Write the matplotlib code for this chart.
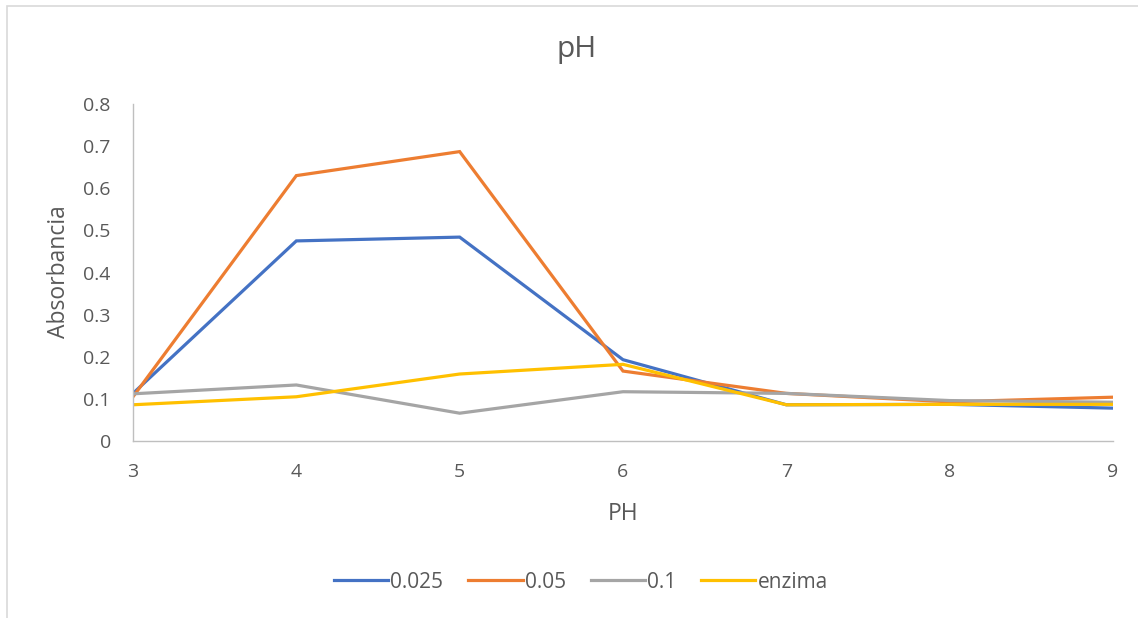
import matplotlib
matplotlib.use("Agg")
import matplotlib.pyplot as plt
from matplotlib.patches import Rectangle

ph = [3, 4, 5, 6, 7, 8, 9]
s_0025 = [0.113, 0.475, 0.484, 0.193, 0.086, 0.087, 0.078]
s_005 = [0.105, 0.630, 0.687, 0.166, 0.113, 0.093, 0.104]
s_01 = [0.112, 0.133, 0.066, 0.117, 0.113, 0.096, 0.092]
s_enz = [0.086, 0.105, 0.159, 0.182, 0.086, 0.087, 0.087]
labels = ["0.025", "0.05", "0.1", "enzima"]
colors = ["#4472C4", "#ED7D31", "#A5A5A5", "#FFC000"]
yticks = [0, 0.1, 0.2, 0.3, 0.4, 0.5, 0.6, 0.7, 0.8]
ytick_labels = ["0", "0.1", "0.2", "0.3", "0.4", "0.5", "0.6", "0.7", "0.8"]

plt.rcParams['font.family'] = ['Open Sans', 'DejaVu Sans']
TXT = "#595959"

fig = plt.figure(figsize=(11.38, 6.18), dpi=100)
fig.patches.append(Rectangle((7/1138, -0.1), 1.2, 1 - 6/618 + 0.1, transform=fig.transFigure,
                             fill=False, edgecolor="#D9D9D9", linewidth=1.2))
ax = fig.add_axes([133/1138, 1 - 441/618, (1113 - 133)/1138, (441 - 104)/618])

for ys, lab, col in zip([s_0025, s_005, s_01, s_enz], labels, colors):
    ax.plot(ph, ys, color=col, linewidth=2.3, label=lab, solid_joinstyle='miter')

ax.set_xlim(3, 9)
ax.set_ylim(0, 0.8)
ax.set_xticks(ph)
ax.set_yticks(yticks)
ax.set_yticklabels(ytick_labels)
ax.tick_params(axis='both', length=0, labelsize=14, colors=TXT)
ax.tick_params(axis='y', pad=16)
ax.tick_params(axis='x', pad=16)
for sp in ["top", "right"]:
    ax.spines[sp].set_visible(False)
for sp in ["left", "bottom"]:
    ax.spines[sp].set_color("#BFBFBF")
    ax.spines[sp].set_linewidth(1.0)

fig.text(623/1138, 1 - 514/618, "PH", ha='center', va='center', fontsize=16.5, color=TXT)
fig.text(59/1138, 1 - 272/618, "Absorbancia", ha='center', va='center', rotation=90,
         fontsize=16.5, color=TXT)
fig.text(577/1138, 1 - 49/618, "pH", ha='center', va='center', fontsize=21.5, color=TXT)

leg = fig.legend(loc='center', bbox_to_anchor=(581/1138, 1 - 582/618), ncol=4, frameon=False,
                 fontsize=15, handlelength=2.6, handletextpad=0.1, columnspacing=1.2)
for t in leg.get_texts():
    t.set_color(TXT)

fig.savefig("out.png", dpi=100)
